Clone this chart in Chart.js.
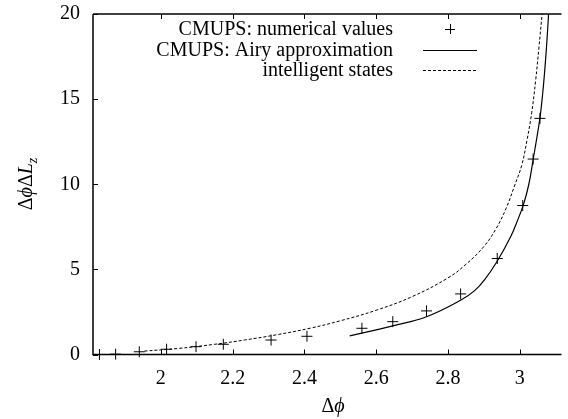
<!DOCTYPE html>
<html>
<head>
<meta charset="utf-8">
<script src="https://cdn.jsdelivr.net/npm/chart.js@4.4.0/dist/chart.umd.min.js"></script>
<style>
  html, body { margin: 0; padding: 0; background: #fff; overflow: hidden; }
  #wrap { width: 568px; height: 419px; }
</style>
</head>
<body>
<div id="wrap"><canvas id="grafico" width="568" height="419"></canvas></div>
<script>
// Datos
const numX = [1.829, 1.874, 1.940, 2.016, 2.098, 2.174, 2.307, 2.407, 2.560, 2.646, 2.740, 2.835, 2.937, 3.008, 3.037, 3.056];
const numY = [0.0, 0.02, 0.16, 0.31, 0.46, 0.6, 0.85, 1.07, 1.54, 1.93, 2.56, 3.56, 5.64, 8.75, 11.48, 13.87];

const airyX = [2.526, 2.6, 2.646, 2.74, 2.836, 2.874, 2.902, 2.936, 2.975, 2.993, 3.010, 3.025, 3.037, 3.047, 3.056, 3.063, 3.069, 3.075, 3.080];
const airyY = [1.09, 1.45, 1.68, 2.22, 3.2, 3.75, 4.4, 5.45, 6.95, 7.85, 8.8, 10.0, 11.44, 12.7, 13.9, 15.2, 16.6, 18.3, 20];

const intelX = [1.954, 2.05, 2.15, 2.233, 2.32, 2.417, 2.5, 2.6, 2.7, 2.8, 2.85, 2.9, 2.934, 2.962, 2.985, 3.005, 3.02, 3.033, 3.044, 3.053, 3.062];
const intelY = [0.2, 0.36, 0.6, 0.85, 1.15, 1.55, 1.98, 2.6, 3.4, 4.5, 5.3, 6.35, 7.4, 8.6, 9.9, 11.1, 12.6, 14.2, 16.1, 18.0, 20];

const xTicks = [2, 2.2, 2.4, 2.6, 2.8, 3];
const yTicks = [0, 5, 10, 15, 20];

const etiquetas = ['CMUPS: numerical values', 'CMUPS: Airy approximation', 'intelligent states'];

const fuente = '"Liberation Serif", "DejaVu Serif", serif';

function puntos(xs, ys) {
    return xs.map((x, i) => ({ x: x, y: ys[i] }));
}

// Ejes estilo gnuplot: marcas hacia dentro, borde, leyenda y títulos
const estiloGnuplot = {
    id: 'estiloGnuplot',
    afterDatasetsDraw(chart) {
        const ctx = chart.ctx;
        const a = chart.chartArea;
        const sx = chart.scales.x;
        const sy = chart.scales.y;
        ctx.save();
        ctx.strokeStyle = '#000';
        ctx.lineWidth = 1.5;
        ctx.beginPath();
        ctx.moveTo(a.left, a.top);
        ctx.lineTo(a.right, a.top);
        ctx.moveTo(a.left, a.top);
        ctx.lineTo(a.left, a.bottom);
        ctx.lineTo(a.right, a.bottom);
        ctx.stroke();

        ctx.lineWidth = 1;
        ctx.beginPath();
        xTicks.forEach(v => {
            const px = Math.round(sx.getPixelForValue(v)) + 0.5;
            ctx.moveTo(px, a.bottom);
            ctx.lineTo(px, a.bottom - 5);
            ctx.moveTo(px, a.top);
            ctx.lineTo(px, a.top + 5);
        });
        yTicks.forEach(v => {
            const py = Math.round(sy.getPixelForValue(v)) + 0.5;
            ctx.moveTo(a.left, py);
            ctx.lineTo(a.left + 5, py);
        });
        ctx.stroke();

        // Leyenda
        ctx.fillStyle = '#000';
        ctx.font = '20px ' + fuente;
        ctx.textAlign = 'right';
        ctx.textBaseline = 'middle';
        const filas = [29, 50, 70];
        etiquetas.forEach((t, i) => ctx.fillText(t, 393, filas[i] + 1));
        ctx.beginPath();
        ctx.moveTo(445, filas[0] + 0.5);
        ctx.lineTo(455, filas[0] + 0.5);
        ctx.moveTo(450.5, filas[0] - 5);
        ctx.lineTo(450.5, filas[0] + 5);
        ctx.moveTo(423, filas[1] + 0.5);
        ctx.lineTo(477, filas[1] + 0.5);
        ctx.stroke();
        ctx.setLineDash([3, 2]);
        ctx.beginPath();
        ctx.moveTo(423, filas[2] + 0.5);
        ctx.lineTo(477, filas[2] + 0.5);
        ctx.stroke();
        ctx.setLineDash([]);

        // Título eje x: Δϕ
        ctx.textAlign = 'left';
        ctx.textBaseline = 'alphabetic';
        ctx.font = '20px ' + fuente;
        const wD = ctx.measureText('Δ').width;
        ctx.font = 'italic 20px ' + fuente;
        const wPhi = ctx.measureText('ϕ').width;
        let x0 = 333 - (wD + wPhi) / 2;
        ctx.font = '20px ' + fuente;
        ctx.fillText('Δ', x0, 412);
        ctx.font = 'italic 20px ' + fuente;
        ctx.fillText('ϕ', x0 + wD, 412);

        // Título eje y: ΔϕΔL_z
        ctx.translate(32, 184);
        ctx.rotate(-Math.PI / 2);
        const partes = [
            { t: 'Δ', f: '20px ', dy: 0 },
            { t: 'ϕ', f: 'italic 20px ', dy: 0 },
            { t: 'Δ', f: '20px ', dy: 0 },
            { t: 'L', f: 'italic 20px ', dy: 0 },
            { t: 'z', f: 'italic 14px ', dy: 5 }
        ];
        let total = 0;
        partes.forEach(p => { ctx.font = p.f + fuente; p.w = ctx.measureText(p.t).width; total += p.w; });
        let cx = -total / 2;
        partes.forEach(p => {
            ctx.font = p.f + fuente;
            ctx.fillText(p.t, cx, p.dy);
            cx += p.w;
        });
        ctx.restore();
    }
};

const ctx = document.getElementById('grafico').getContext('2d');
new Chart(ctx, {
    type: 'scatter',
    data: {
        datasets: [
            {
                label: etiquetas[0],
                data: puntos(numX, numY),
                pointStyle: 'cross',
                pointRadius: 5.5,
                pointBorderWidth: 1,
                borderColor: '#000',
                backgroundColor: '#000',
                showLine: false,
                clip: false
            },
            {
                label: etiquetas[1],
                data: puntos(airyX, airyY),
                showLine: true,
                pointRadius: 0,
                borderColor: '#000',
                borderWidth: 1.2,
                tension: 0.4
            },
            {
                label: etiquetas[2],
                data: puntos(intelX, intelY),
                showLine: true,
                pointRadius: 0,
                borderColor: '#000',
                borderWidth: 1,
                borderDash: [3, 2],
                tension: 0.4
            }
        ]
    },
    options: {
        responsive: false,
        animation: false,
        layout: { padding: { top: 14, right: 0, left: 0, bottom: 0 } },
        plugins: {
            legend: { display: false },
            tooltip: { enabled: false }
        },
        scales: {
            x: {
                type: 'linear',
                min: 1.811,
                max: 3.116,
                afterBuildTicks: s => { s.ticks = xTicks.map(v => ({ value: v })); },
                afterFit: s => { s.height = 64.5; s.paddingLeft = 0; s.paddingRight = 0; },
                grid: { display: false, drawTicks: false },
                border: { display: false },
                ticks: {
                    color: '#000',
                    font: { family: fuente, size: 20 },
                    padding: 12,
                    maxRotation: 0,
                    callback: v => String(v)
                }
            },
            y: {
                type: 'linear',
                min: 0,
                max: 20,
                afterBuildTicks: s => { s.ticks = yTicks.map(v => ({ value: v })); },
                afterFit: s => { s.width = 93; s.paddingTop = 0; s.paddingBottom = 0; },
                grid: { display: false, drawTicks: false },
                border: { display: false },
                ticks: {
                    color: '#000',
                    font: { family: fuente, size: 20 },
                    padding: 13,
                    callback: v => String(v)
                }
            }
        }
    },
    plugins: [estiloGnuplot]
});
</script>
</body>
</html>
